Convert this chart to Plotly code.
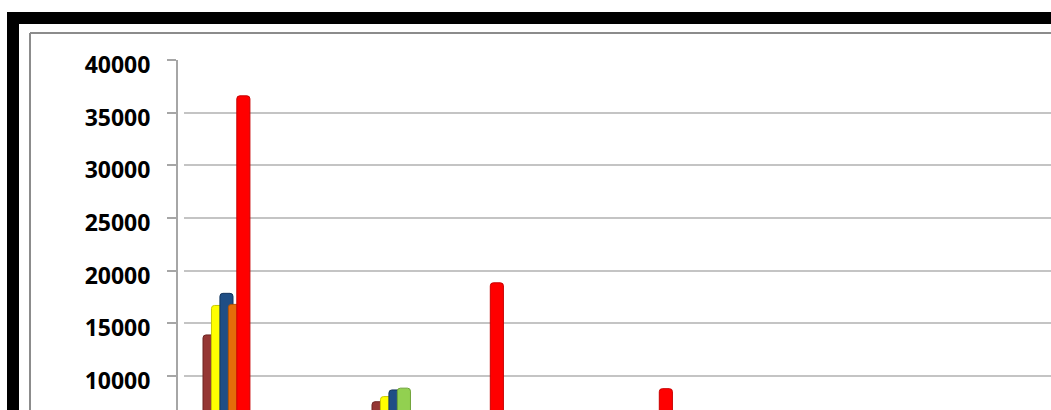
import plotly.graph_objects as go

# ---- data ----
categories = ["1", "2", "3", "4", "5", "6", "7", "8", "9", "10", "11"]
series_names = ["Series 1", "Series 2", "Series 3", "Series 4", "Series 5", "Series 6"]
s1_darkred = [13900, None, 7560, None, None, None, None, None, None, None, None]
s2_yellow = [16700, None, 8050, None, None, None, None, None, None, None, None]
s3_blue = [17850, None, 8680, None, None, None, None, None, None, None, None]
s4_orange = [16800, None, None, None, None, None, None, None, None, None, None]
s5_green = [None, None, 8850, None, None, None, None, None, None, None, None]
s6_red = [36600, None, None, 18850, None, 8800, None, None, None, None, None]
y_ticks = [10000, 15000, 20000, 25000, 30000, 35000, 40000]

W, H = 1051, 410
ML, MT = 177, 60
PW, PH = W - ML, H - MT


def px(x):
    return (x - ML) / PW


def py(y):
    return (H - y) / PH


fig = go.Figure()
styles = [
    (s1_darkred, "#953735", "#6e2423", -0.278),
    (s2_yellow, "#ffff00", "#c8c800", -0.178),
    (s3_blue, "#1f4e85", "#14365e", -0.078),
    (s4_orange, "#e46c0a", "#b05206", 0.022),
    (s5_green, "#92d050", "#6fa338", 0.022),
    (s6_red, "#ff0000", "#c80000", 0.122),
]
for (vals, col, edge, off), name in zip(styles, series_names):
    fig.add_trace(go.Bar(
        x=categories, y=vals, name=name,
        offset=off, width=0.155,
        marker=dict(color=col, line=dict(color=edge, width=1), cornerradius=3),
        showlegend=False,
    ))

x0 = (184.25 - ML) / PW
ncat_visible = (W - 184.25) / 84.5
fig.update_layout(
    width=W, height=H,
    margin=dict(l=ML, r=0, t=MT, b=0, pad=0),
    paper_bgcolor="white", plot_bgcolor="white",
    barmode="overlay",
    xaxis=dict(domain=[x0, 1], range=[-0.5, -0.5 + ncat_visible],
               showticklabels=False, showgrid=False, zeroline=False,
               showline=False, ticks=""),
    yaxis=dict(range=[6776, 40000], tickvals=y_ticks,
               ticktext=[str(v) for v in y_ticks],
               anchor="free", position=0,
               showgrid=True, gridcolor="#c4c4c4", gridwidth=2,
               zeroline=False, showline=True, linecolor="#a6a6a6", linewidth=2,
               ticks="outside", ticklen=9, tickcolor="#a6a6a6", tickwidth=2,
               ticklabelstandoff=12, ticklabelshift=5,
               tickfont=dict(family="Open Sans", size=23, color="black", weight="bold")),
    shapes=[
        # outer black frame
        dict(type="rect", xref="paper", yref="paper", x0=px(7), x1=px(1060),
             y0=py(24), y1=py(12), fillcolor="black", line=dict(width=0), layer="above"),
        dict(type="rect", xref="paper", yref="paper", x0=px(7), x1=px(19),
             y0=py(420), y1=py(12), fillcolor="black", line=dict(width=0), layer="above"),
        # inner gray chart border
        dict(type="line", xref="paper", yref="paper", x0=px(30), x1=px(1060),
             y0=py(33), y1=py(33), line=dict(color="#8c8c8c", width=2), layer="above"),
        dict(type="line", xref="paper", yref="paper", x0=px(30), x1=px(30),
             y0=py(33), y1=py(420), line=dict(color="#8c8c8c", width=2), layer="above"),
    ],
)

fig.write_html("out.html")
